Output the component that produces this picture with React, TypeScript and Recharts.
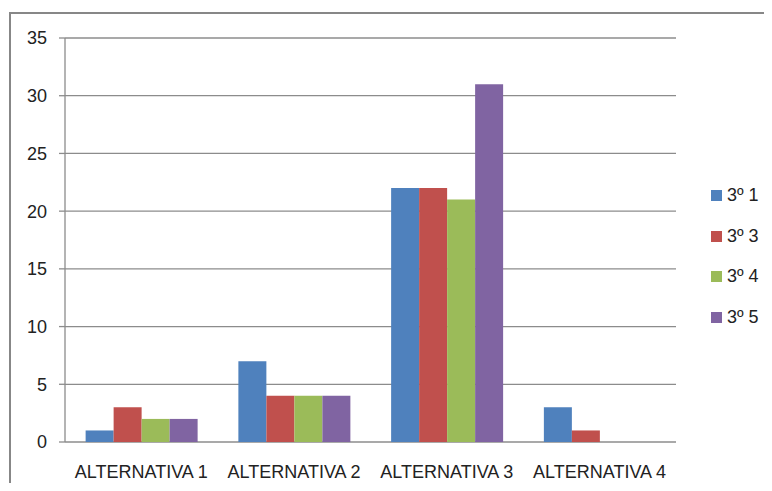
import React from "react";
import {
  BarChart,
  Bar,
  XAxis,
  YAxis,
  CartesianGrid,
  Legend,
} from "recharts";

const categories = ["ALTERNATIVA 1", "ALTERNATIVA 2", "ALTERNATIVA 3", "ALTERNATIVA 4"];
const seriesNames = ["3º 1", "3º 3", "3º 4", "3º 5"];
const serie1 = [1, 7, 22, 3];
const serie3 = [3, 4, 22, 1];
const serie4 = [2, 4, 21, 0];
const serie5 = [2, 4, 31, 0];
const yTicks = [0, 5, 10, 15, 20, 25, 30, 35];
const boundaryTicks = [0, 1, 2, 3, 4];

const COLORS = ["#4F81BD", "#C0504D", "#9BBB59", "#8064A2"];
const FONT = "'Liberation Sans', Arial, sans-serif";
const GRAY = "#8c8c8c";

const data = categories.map((name, i) => ({
  name,
  idx: i + 0.5,
  s1: serie1[i],
  s3: serie3[i],
  s4: serie4[i],
  s5: serie5[i],
}));

const keys = ["s1", "s3", "s4", "s5"];

function LegendBox() {
  return (
    <div style={{ fontFamily: FONT, fontSize: 18, color: "#222" }}>
      {seriesNames.map((n, i) => (
        <div
          key={n}
          style={{ display: "flex", alignItems: "center", height: 40.7 }}
        >
          <span
            style={{
              width: 11,
              height: 11,
              background: COLORS[i],
              marginRight: 5,
              display: "inline-block",
            }}
          />
          <span>{n}</span>
        </div>
      ))}
    </div>
  );
}

export default function App() {
  return (
    <div
      style={{
        position: "relative",
        margin: -8,
        width: 772,
        height: 491,
        overflow: "hidden",
        background: "#fff",
      }}
    >
      <div
        style={{
          position: "absolute",
          left: 9,
          top: 12,
          width: 820,
          height: 520,
          border: "2px solid #878787",
        }}
      />
      <div style={{ position: "absolute", left: 0, top: 0 }}>
        <BarChart
          width={772}
          height={491}
          data={data}
          margin={{ top: 38, right: 26, bottom: 9, left: 0 }}
          barCategoryGap="13.5%"
          barGap={0}
        >
          <CartesianGrid vertical={false} stroke={GRAY} strokeWidth={1.3} />
          <XAxis
            xAxisId="bounds"
            type="number"
            dataKey="idx"
            domain={[0, 4]}
            ticks={boundaryTicks}
            height={0}
            tick={false}
            axisLine={{ stroke: GRAY, strokeWidth: 1.3 }}
            tickLine={{ stroke: GRAY, strokeWidth: 1.3 }}
            tickSize={8}
          />
          <XAxis
            xAxisId="cat"
            dataKey="name"
            height={40}
            axisLine={false}
            tickLine={false}
            tickSize={0}
            tickMargin={23}
            interval={0}
            tick={{ fill: "#222", fontSize: 18, fontFamily: FONT }}
          />
          <YAxis
            width={65}
            domain={[0, 35]}
            ticks={yTicks}
            interval={0}
            axisLine={{ stroke: GRAY, strokeWidth: 1.3 }}
            tickLine={{ stroke: GRAY, strokeWidth: 1.3 }}
            tickSize={6}
            tickMargin={12}
            tick={{ fill: "#222", fontSize: 18, fontFamily: FONT }}
          />
          <Legend
            layout="vertical"
            align="right"
            verticalAlign="top"
            content={() => <LegendBox />}
            wrapperStyle={{ left: 711, top: 175, width: 70 }}
          />
          {keys.map((k, i) => (
            <Bar
              key={k}
              dataKey={k}
              name={seriesNames[i]}
              xAxisId="cat"
              fill={COLORS[i]}
              isAnimationActive={false}
            />
          ))}
        </BarChart>
      </div>
    </div>
  );
}
